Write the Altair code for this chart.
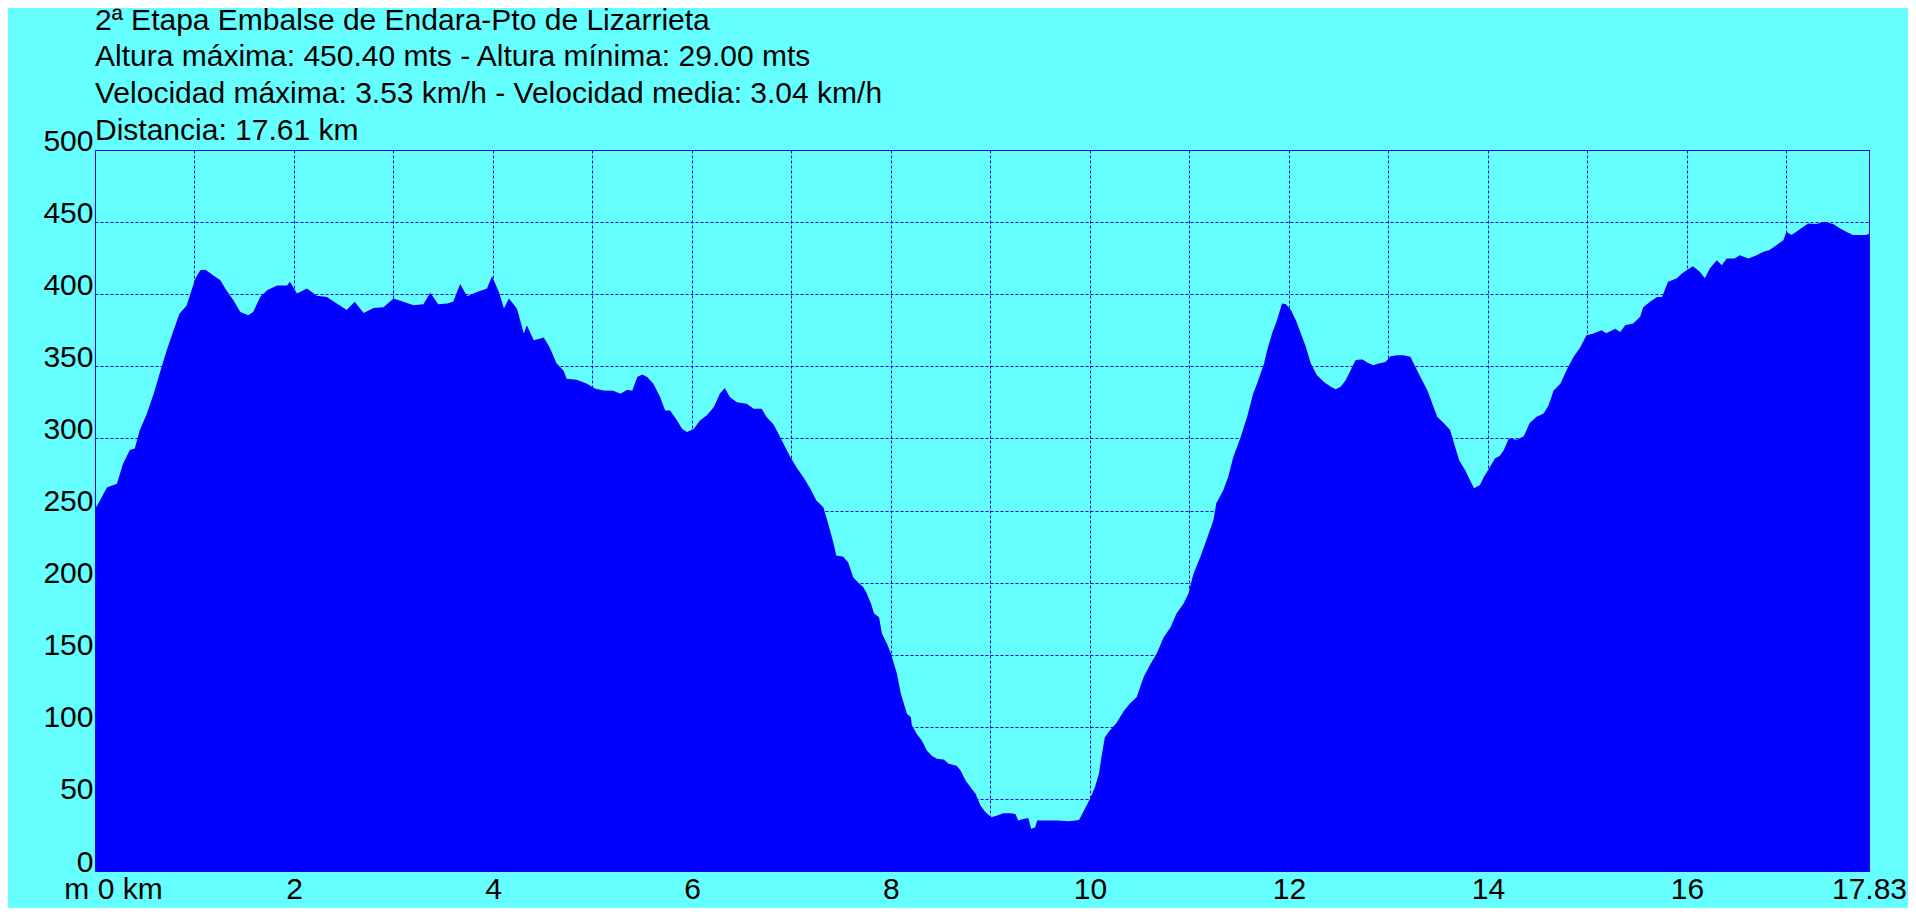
import altair as alt
import pandas as pd

# ---- data ----
title_lines = [
    "2ª Etapa Embalse de Endara-Pto de Lizarrieta",
    "Altura máxima: 450.40 mts - Altura mínima: 29.00 mts",
    "Velocidad máxima: 3.53 km/h - Velocidad media: 3.04 km/h",
    "Distancia: 17.61 km",
]

dist_km = [
    0.00, 0.05, 0.12, 0.22, 0.28, 0.35, 0.40, 0.45, 0.52, 0.59, 0.65, 0.72, 0.79, 0.85, 0.92, 0.96,
    1.01, 1.06, 1.11, 1.19, 1.26, 1.32, 1.39, 1.46, 1.54, 1.59, 1.66, 1.73, 1.83, 1.93, 1.96,
    2.03, 2.13, 2.23, 2.33, 2.43, 2.53, 2.61, 2.70, 2.80, 2.90, 3.00, 3.10, 3.20, 3.30, 3.37,
    3.45, 3.54, 3.60, 3.67, 3.74, 3.84, 3.94, 3.99, 4.06, 4.11, 4.16, 4.24, 4.31, 4.34, 4.41,
    4.51, 4.57, 4.64, 4.71, 4.74, 4.84, 4.94, 5.03, 5.11, 5.21, 5.28, 5.35, 5.40, 5.45, 5.50,
    5.55, 5.61, 5.68, 5.73, 5.78, 5.85, 5.90, 5.95, 6.02, 6.08, 6.15, 6.22, 6.28, 6.33, 6.38,
    6.45, 6.55, 6.62, 6.70, 6.75, 6.82, 6.87, 6.92, 6.99, 7.05, 7.12, 7.19, 7.25, 7.32, 7.37,
    7.42, 7.45, 7.52, 7.57, 7.62, 7.67, 7.72, 7.75, 7.80, 7.83, 7.88, 7.91, 7.96, 8.00, 8.03,
    8.06, 8.10, 8.13, 8.16, 8.20, 8.21, 8.26, 8.31, 8.36, 8.41, 8.46, 8.53, 8.58, 8.66, 8.70,
    8.75, 8.80, 8.85, 8.90, 8.95, 9.01, 9.06, 9.13, 9.20, 9.25, 9.28, 9.33, 9.38, 9.41, 9.45,
    9.47, 9.67, 9.79, 9.89, 9.94, 10.00, 10.05, 10.09, 10.12, 10.15, 10.20, 10.27, 10.34, 10.40,
    10.47, 10.54, 10.61, 10.67, 10.74, 10.81, 10.87, 10.94, 10.99, 11.04, 11.11, 11.17, 11.24,
    11.27, 11.34, 11.39, 11.44, 11.51, 11.58, 11.64, 11.68, 11.75, 11.78, 11.83, 11.88, 11.93,
    11.97, 12.02, 12.07, 12.12, 12.17, 12.22, 12.28, 12.35, 12.42, 12.47, 12.52, 12.57, 12.62,
    12.67, 12.74, 12.79, 12.85, 12.90, 12.97, 13.02, 13.09, 13.15, 13.22, 13.27, 13.32, 13.39,
    13.44, 13.49, 13.56, 13.62, 13.66, 13.71, 13.77, 13.82, 13.86, 13.92, 13.96, 14.01, 14.07,
    14.12, 14.16, 14.21, 14.29, 14.36, 14.42, 14.49, 14.56, 14.61, 14.66, 14.73, 14.79, 14.86,
    14.93, 14.99, 15.06, 15.14, 15.19, 15.28, 15.33, 15.38, 15.46, 15.53, 15.56, 15.63, 15.70,
    15.75, 15.81, 15.90, 15.95, 16.00, 16.06, 16.13, 16.18, 16.23, 16.30, 16.35, 16.40, 16.48,
    16.53, 16.62, 16.70, 16.77, 16.83, 16.90, 16.97, 17.00, 17.05, 17.10, 17.17, 17.22, 17.30,
    17.38, 17.47, 17.54, 17.60, 17.67, 17.80, 17.83,
]

elev_m = [
    251.0, 257.0, 266.0, 268.5, 282.0, 292.0, 293.0, 305.6, 317.0, 331.0, 345.0, 361.0, 375.0, 386.6, 392.0, 400.5,
    411.0, 416.7, 417.0, 413.0, 409.7, 402.8, 396.0, 387.7, 385.4, 387.7, 398.0, 402.8, 406.0, 406.0, 408.6,
    400.5, 404.0, 399.0, 398.0, 393.5, 389.0, 394.7, 387.0, 390.5, 391.0, 397.0, 394.7, 392.4, 393.0, 401.0,
    393.0, 393.5, 394.7, 407.0, 398.6, 401.6, 404.0, 412.5, 401.6, 390.0, 397.0, 390.0, 372.7, 378.5, 368.0,
    370.0, 363.0, 352.0, 347.0, 341.4, 340.7, 338.0, 334.5, 333.3, 333.0, 331.0, 333.8, 333.0, 342.6, 344.4,
    342.6, 338.0, 328.7, 319.4, 319.4, 312.5, 306.7, 304.4, 306.7, 312.5, 316.0, 321.8, 331.0, 335.0, 328.7,
    325.0, 324.0, 320.6, 320.6, 314.8, 309.7, 303.0, 296.3, 287.0, 280.0, 273.0, 265.0, 257.0, 252.3, 240.7,
    228.0, 218.8, 218.0, 214.0, 203.7, 200.0, 197.0, 193.5, 185.4, 178.5, 176.0, 164.6, 157.6, 150.7, 143.8,
    136.8, 123.0, 116.0, 109.0, 106.7, 101.0, 95.0, 90.5, 83.6, 80.0, 77.8, 77.3, 74.3, 73.0, 69.7,
    62.7, 58.0, 53.5, 45.4, 40.7, 37.3, 38.4, 40.0, 40.0, 39.6, 35.0, 36.0, 36.8, 29.2, 30.3,
    35.0, 35.0, 34.5, 35.4, 42.0, 50.0, 58.0, 67.4, 81.0, 92.8, 97.5, 103.0, 111.0, 116.0,
    120.6, 134.5, 143.8, 150.7, 162.0, 169.0, 178.5, 185.4, 192.4, 206.0, 218.0, 229.4, 243.0,
    255.0, 264.0, 273.4, 287.0, 300.0, 315.0, 331.0, 338.0, 352.0, 361.0, 372.7, 382.0, 393.5,
    393.0, 389.0, 382.0, 372.7, 363.5, 352.0, 344.0, 339.3, 335.8, 334.0, 335.8, 340.4, 347.3,
    354.3, 354.7, 352.4, 350.8, 352.0, 353.0, 357.0, 357.7, 357.7, 356.6, 349.7, 342.7, 333.5,
    324.2, 315.0, 310.4, 305.8, 296.5, 285.0, 278.0, 271.0, 265.4, 267.6, 273.4, 279.0, 286.0,
    288.0, 292.0, 300.0, 299.0, 301.5, 310.6, 315.0, 317.3, 323.0, 333.3, 338.0, 347.2, 356.5,
    363.4, 371.5, 372.7, 375.0, 373.0, 376.0, 373.8, 378.5, 379.6, 384.3, 391.0, 394.7, 398.0,
    398.0, 408.6, 411.0, 414.4, 416.7, 419.4, 415.5, 411.0, 417.8, 423.6, 420.0, 424.8, 424.8,
    427.0, 424.8, 427.0, 429.4, 430.6, 434.0, 437.5, 443.3, 441.0, 443.3, 446.8, 449.0, 448.6,
    450.2, 448.6, 445.6, 443.3, 441.0, 441.0, 442.0,
]

x_grid_km = list(range(0, 18)) + [17.83]
y_ticks_m = list(range(0, 501, 50))

BG = "#66FFFF"
BLUE = "#0000FF"
FONT = "Liberation Sans"
FS = 30

df = pd.DataFrame({"km": dist_km, "m": elev_m})

x_enc = alt.X(
    "km:Q",
    scale=alt.Scale(domain=[0, 17.83], nice=False, zero=False),
    axis=alt.Axis(
        values=x_grid_km,
        labelExpr="datum.value == 0 ? 'm 0 km' : (datum.value > 17.5 ? '17.83' : (datum.value % 2 == 0 ? datum.value + '' : ''))",
        labelFont=FONT, labelFontSize=FS, labelColor="black",
        labelBaseline="alphabetic", labelPadding=27, labelAlign="center",
        labelOffset={"condition": {"test": "datum.value == 0", "value": 18}, "value": 0},
        labelOverlap=False, labelBound=False, labelFlush=False,
        ticks=False, domain=False, title=None,
        grid=True, gridColor=BLUE, gridDash=[3, 2], gridWidth=1, gridOpacity=1,
    ),
)
y_enc = alt.Y(
    "m:Q",
    scale=alt.Scale(domain=[0, 500], nice=False),
    axis=alt.Axis(
        values=y_ticks_m,
        labelFont=FONT, labelFontSize=FS, labelColor="black",
        labelBaseline="alphabetic", labelPadding=2, labelAlign="right",
        labelOverlap=False, labelBound=False, labelFlush=False,
        ticks=False, domain=False, title=None,
        grid=True, gridColor=BLUE, gridDash=[3, 2], gridWidth=1, gridOpacity=1,
    ),
)

area = alt.Chart(df).mark_area(color=BLUE, opacity=1, interpolate="linear").encode(
    x=x_enc, y=y_enc
)

title_y = [-120, -84, -47, -10]
texts = []
for line, yy in zip(title_lines, title_y):
    texts.append(
        alt.Chart(pd.DataFrame({"t": [line]})).mark_text(
            align="left", baseline="alphabetic", font=FONT, fontSize=FS, color="black"
        ).encode(x=alt.value(0), y=alt.value(yy), text="t:N")
    )

chart = alt.layer(area, *texts).properties(
    width=1774,
    height=721,
    padding={"left": 87, "top": 142, "right": 39, "bottom": 37},
    autosize=alt.AutoSizeParams(type="none"),
    background=BG,
).configure_view(
    stroke=BLUE, strokeWidth=1, fill=BG
)

chart.save("out.html", embed_options={"renderer": "svg", "actions": False})
